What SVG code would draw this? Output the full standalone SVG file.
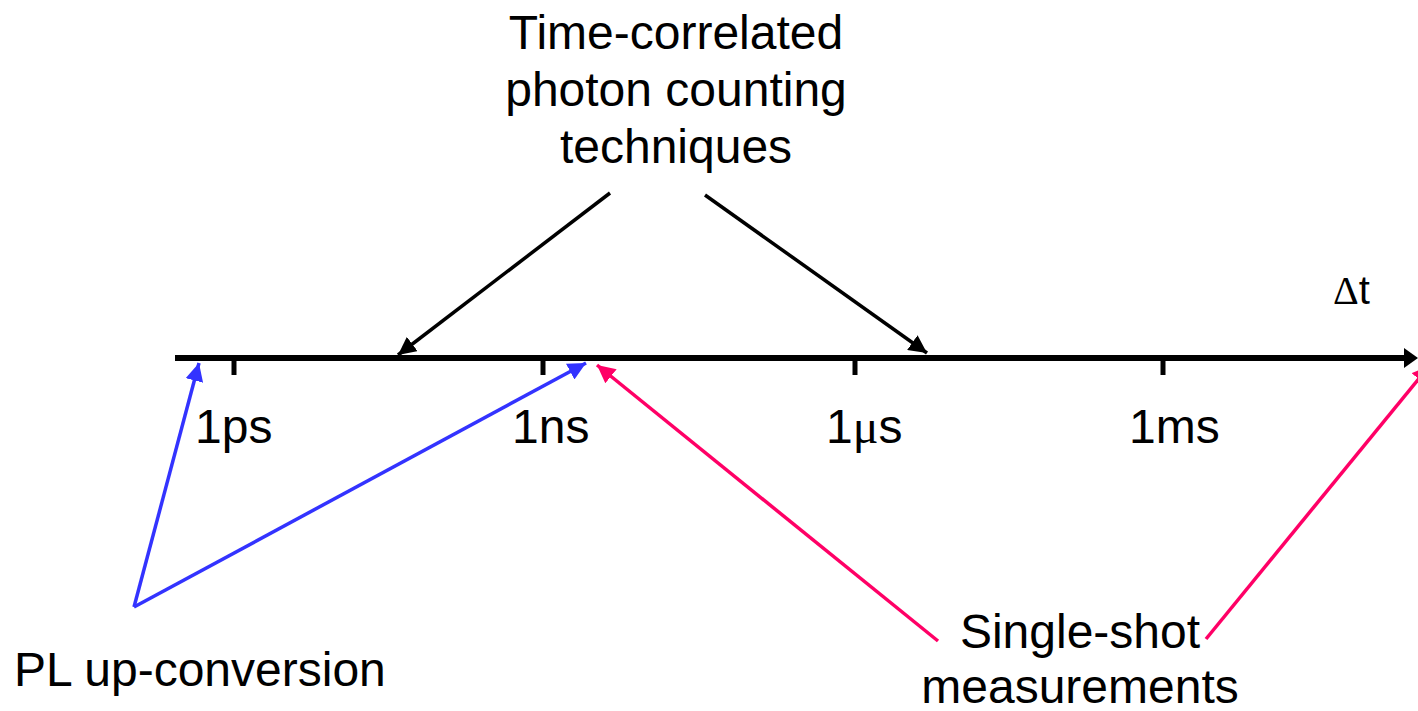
<svg xmlns="http://www.w3.org/2000/svg" width="1418" height="711" viewBox="0 0 1418 711">
<style>
text{font-family:"Liberation Sans",Arial,sans-serif;font-size:48px;fill:#000}
.sym{font-family:"Liberation Serif","Times New Roman",serif}
.blk{stroke:#000;stroke-width:3.5;fill:none}
.blu{stroke:#3333FF;stroke-width:3.5;fill:none}
.red{stroke:#FF0066;stroke-width:3.5;fill:none}
</style>
<defs>
<marker id="ab" markerUnits="userSpaceOnUse" markerWidth="20" markerHeight="18" refX="18" refY="9" orient="auto"><path d="M0,0 L18,9 L0,18 Z" fill="#000"/></marker>
<marker id="au" markerUnits="userSpaceOnUse" markerWidth="20" markerHeight="18" refX="18" refY="9" orient="auto"><path d="M0,0 L18,9 L0,18 Z" fill="#3333FF"/></marker>
<marker id="ar" markerUnits="userSpaceOnUse" markerWidth="20" markerHeight="18" refX="18" refY="9" orient="auto"><path d="M0,0 L18,9 L0,18 Z" fill="#FF0066"/></marker>
</defs>
<g id="axis">
<line x1="175" y1="358" x2="1406" y2="358" stroke="#000" stroke-width="6"/>
<path d="M1404,348 L1418,358 L1404,368 Z" fill="#000"/>
<g stroke="#000" stroke-width="5">
<line x1="234" y1="358" x2="234" y2="375"/>
<line x1="543" y1="358" x2="543" y2="375"/>
<line x1="855" y1="358" x2="855" y2="375"/>
<line x1="1163" y1="358" x2="1163" y2="375"/>
</g>
<text x="1333" y="304" font-size="40" style="font-size:40px"><tspan class="sym">Δ</tspan>t</text>
</g>
<g id="tick-labels">
<text x="195" y="443">1ps</text>
<text x="512" y="443">1ns</text>
<text x="826" y="443">1<tspan class="sym">μ</tspan>s</text>
<text x="1129" y="443">1ms</text>
</g>
<g id="node-tcspc">
<text text-anchor="middle" x="676"><tspan x="676" y="49">Time-correlated</tspan><tspan x="676" y="106">photon counting</tspan><tspan x="676" y="163">techniques</tspan></text>
</g>
<g id="node-pl">
<text x="14" y="686">PL up-conversion</text>
</g>
<g id="node-single">
<text text-anchor="middle" x="1080"><tspan x="1080" y="648">Single-shot</tspan><tspan x="1080" y="703">measurements</tspan></text>
</g>
<g id="connectors">
<line class="blk" x1="610" y1="193" x2="398" y2="355" marker-end="url(#ab)"/>
<line class="blk" x1="705" y1="195" x2="927" y2="353" marker-end="url(#ab)"/>
<line class="blu" x1="134" y1="607" x2="199" y2="363" marker-end="url(#au)"/>
<line class="blu" x1="134" y1="607" x2="586" y2="363" marker-end="url(#au)"/>
<line class="red" x1="938" y1="641" x2="597" y2="365" marker-end="url(#ar)"/>
<line class="red" x1="1206" y1="639" x2="1430" y2="365" marker-end="url(#ar)"/>
</g>
</svg>
